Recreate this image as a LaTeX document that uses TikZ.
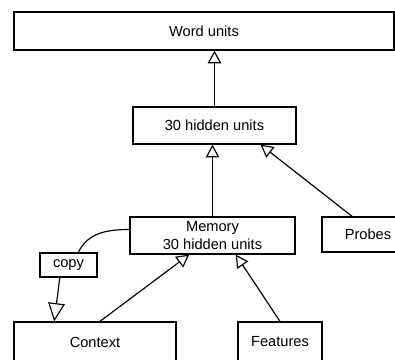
\documentclass[tikz,border=0pt]{standalone}
\usepackage{fontspec}
\setmainfont{Liberation Sans}
\usetikzlibrary{arrows.meta,positioning,calc}
\tikzset{
  unit/.style={rectangle,draw=black,line width=1pt,
               font=\fontsize{12.5}{15.5}\selectfont,align=center,
               inner sep=0pt},
  oarr/.style={-{Triangle[open,length=0.38cm,width=0.4cm]},line width=1pt},
  barr/.style={-{Triangle[open,length=0.55cm,width=0.5cm]},line width=1pt},
  cline/.style={line width=1pt},
}

\begin{document}
\begin{tikzpicture}[x=0.03cm,y=-0.03cm]

  %% ── frame ────────────────────────────────────────────────────────────────
  \useasboundingbox (0,0) rectangle (395,359);
  \clip (0,0) rectangle (395,359);

  %% ── layers ───────────────────────────────────────────────────────────────
  \node[unit,minimum width=11.4cm,minimum height=1.14cm]  (word) at (204,31)    {Word units};
  \node[unit,minimum width=4.89cm,minimum height=1.11cm]  (hid)  at (214.5,125.5) {30 hidden units};
  \node[unit,minimum width=4.95cm,minimum height=1.11cm]  (mem)  at (212.5,235.5) {Memory\\30 hidden units};
  \node[unit,minimum width=2.76cm,minimum height=1.05cm]  (prb)  at (368,234.5) {Probes};

  %% ── inputs ───────────────────────────────────────────────────────────────
  \node[unit,minimum width=1.71cm,minimum height=0.72cm]  (copy) at (68.5,265)  {copy};
  \node[unit,minimum width=4.86cm,minimum height=1.2cm]   (ctx)  at (95,342)    {Context};
  \node[unit,minimum width=2.52cm,minimum height=1.2cm]   (feat) at (280,342)   {Features};

  %% ── upward connections ───────────────────────────────────────────────────
  \draw[oarr] (hid.north) -- (hid.north |- word.south);
  \draw[oarr] (mem.north) -- (mem.north |- hid.south);
  \draw[oarr] ($(prb.north west)!0.33!(prb.north east)$)
              -- ($(hid.south west)!0.78!(hid.south east)$);
  \draw[oarr] ($(ctx.north west)!0.53!(ctx.north east)$)
              -- ($(mem.south west)!0.36!(mem.south east)$);
  \draw[oarr] (feat.north) -- ($(mem.south west)!0.64!(mem.south east)$);

  %% ── copy loop ────────────────────────────────────────────────────────────
  \draw[cline] ($(mem.west)+(0,-6)$) to[out=180,in=65]
               ($(copy.north west)!0.67!(copy.north east)$);
  \draw[barr] ($(copy.south west)!0.35!(copy.south east)$)
              -- ($(ctx.north west)!0.25!(ctx.north east)$);

\end{tikzpicture}
\end{document}
